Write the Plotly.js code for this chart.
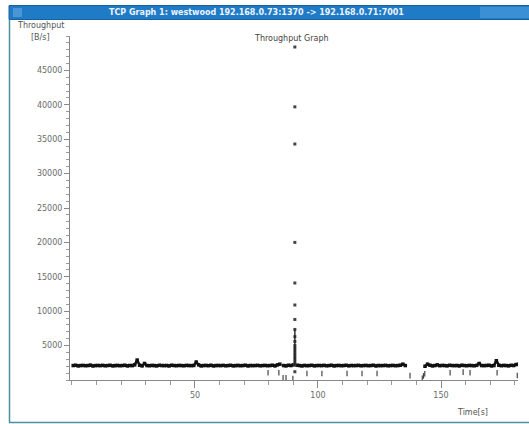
<!DOCTYPE html>
<html><head><meta charset="utf-8">
<script src="https://cdn.plot.ly/plotly-3.0.1.min.js"></script>
<style>html,body{margin:0;padding:0;background:#fff}#g{width:529px;height:424px}</style>
</head><body><div id="g"></div>
<script>
// Segment A: t = 0.5 .. 84.5 step 1
const segA = [2100,2150,2050,2100,2120,2080,2100,2160,2040,2100,
2110,2090,2130,2070,2100,2140,2060,2100,2120,2080,
2100,2150,2050,2110,2090,2200,2900,2150,2050,2400,
2100,2080,2120,2100,2060,2140,2100,2090,2110,2050,
2150,2100,2080,2120,2100,2070,2130,2100,2090,2110,
2600,2200,2050,2100,2120,2080,2150,2050,2100,2110,
2090,2130,2070,2100,2140,2060,2100,2120,2080,2100,
2150,2050,2110,2090,2100,2130,2070,2100,2120,2080,
2100,2150,2050,2200,2300];
// Segment B: t = 86 .. 90
const segB = [2100,2050,2150,2100,2200];
// Spike at t = 90.6
const spikeT = 90.6;
const spikeVals = [48400,39700,34300,20000,14100,10900,8800,7350,6300,5600,5000,4600,4200,3800,3400,3000,2600,2300,1200];
// Segment C: t = 91.5 .. 135.5
const segC = [2150,2100,2050,2120,2080,2100,2140,2060,2100,2110,
2090,2130,2070,2100,2150,2050,2100,2120,2080,2100,
2140,2060,2110,2090,2100,2130,2070,2100,2120,2080,
2100,2150,2050,2110,2090,2100,2130,2070,2100,2120,
2080,2100,2150,2300,2100];
// Segment D: t = 143.5 .. 181.5
const segD = [2000,2300,2150,2050,2100,2200,2080,2120,2100,2060,
2140,2100,2090,2110,2050,2150,2100,2080,2120,2100,
2070,2130,2400,2100,2090,2110,2150,2050,2100,2800,
2150,2080,2120,2100,2060,2140,2100,2250,2300];
// Low outlier points
const lowT = [79.7,84.1,85.8,87.0,89.8,95.5,101.6,111.8,117.9,124.0,137.4,142.4,142.9,143.4,153.7,159.0,161.8,172.8,181.0];
const lowV = [1050,1050,330,330,200,950,950,950,950,950,630,250,600,900,1050,1150,1050,1050,650];
// Tick labels
const xTickVals = [50,100,150];
const xTickText = ['50','100','150'];
const yTickVals = [5000,10000,15000,20000,25000,30000,35000,40000,45000];
const yTickText = ['5000','10000','15000','20000','25000','30000','35000','40000','45000'];

const lineStyle = {mode:'lines+markers', line:{color:'#111', width:2.6}, marker:{color:'#111', size:3.5, symbol:'square'}, hoverinfo:'skip', showlegend:false};
const traces = [
  Object.assign({type:'scatter', x0:0.5, dx:1, y:segA}, lineStyle),
  Object.assign({type:'scatter', x0:86, dx:1, y:segB}, lineStyle),
  Object.assign({type:'scatter', x0:91.5, dx:1, y:segC}, lineStyle),
  Object.assign({type:'scatter', x0:143.5, dx:1, y:segD}, lineStyle),
  {type:'scatter', mode:'markers', x:spikeVals.map(()=>spikeT), y:spikeVals, marker:{color:'#444', size:3, symbol:'square'}, showlegend:false},
  {type:'scatter', mode:'lines', x:[spikeT,spikeT], y:[2100,7350], line:{color:'#222', width:1.4}, showlegend:false},
  {type:'scatter', mode:'markers', x:lowT, y:lowV, marker:{color:'#444', size:4, symbol:'line-ns', line:{color:'#444', width:1.2}}, showlegend:false}
];

const f = {family:'DejaVu Sans, sans-serif', size:8, color:'#6a6a6a'};
function px(x){return (x-70)/448;}
function py(y){return (380-y)/344;}
const layout = {
  width:529, height:424,
  margin:{l:70, r:11, t:36, b:44},
  paper_bgcolor:'#ffffff', plot_bgcolor:'#ffffff',
  showlegend:false,
  xaxis:{range:[-0.8,181.3], showline:true, linecolor:'#888', linewidth:1, zeroline:false, showgrid:false,
         tickmode:'array', tickvals:xTickVals, ticktext:xTickText, ticks:'outside', ticklen:7, tickcolor:'#888',
         minor:{tickmode:'linear', tick0:0, dtick:10, ticks:'outside', ticklen:4, tickcolor:'#999'},
         tickfont:f},
  yaxis:{range:[0,50000], showline:true, linecolor:'#888', linewidth:1, zeroline:false, showgrid:false,
         tickmode:'array', tickvals:yTickVals, ticktext:yTickText,
         ticks:'outside', ticklen:5, tickcolor:'#888',
         minor:{tickmode:'linear', tick0:0, dtick:1000, ticks:'outside', ticklen:3, tickcolor:'#999'},
         tickfont:f},
  annotations:[
    {text:'Throughput Graph', xref:'paper', yref:'paper', x:px(291), y:py(38), xanchor:'center', yanchor:'middle', showarrow:false, font:{family:'DejaVu Sans, sans-serif', size:8, color:'#444'}},
    {text:'Throughput', xref:'paper', yref:'paper', x:px(40), y:py(26), xanchor:'center', yanchor:'middle', showarrow:false, font:{family:'DejaVu Sans, sans-serif', size:8, color:'#555'}},
    {text:'[B/s]', xref:'paper', yref:'paper', x:px(40), y:py(37), xanchor:'center', yanchor:'middle', showarrow:false, font:{family:'DejaVu Sans, sans-serif', size:8, color:'#555'}},
    {text:'Time[s]', xref:'paper', yref:'paper', x:px(472), y:py(412), xanchor:'center', yanchor:'middle', showarrow:false, font:{family:'DejaVu Sans, sans-serif', size:8, color:'#555'}},
    {text:'<b>TCP Graph 1: westwood 192.168.0.73:1370 -> 192.168.0.71:7001</b>', xref:'paper', yref:'paper', x:px(256), y:py(12.5), xanchor:'center', yanchor:'middle', showarrow:false, font:{family:'DejaVu Sans, sans-serif', size:8, color:'#eef4ff'}}
  ],
  shapes:[
    {type:'rect', xref:'paper', yref:'paper', x0:px(9), x1:px(530), y0:py(19.5), y1:py(5.5), fillcolor:'#1f7bc6', line:{color:'#16609e', width:1}, layer:'below'},
    {type:'rect', xref:'paper', yref:'paper', x0:px(480), x1:px(530), y0:py(18), y1:py(7), fillcolor:'#3b8fd3', line:{width:0}, layer:'below'},
    {type:'rect', xref:'paper', yref:'paper', x0:px(13), x1:px(22), y0:py(17), y1:py(8), fillcolor:'#4a95d4', line:{width:0}, layer:'below'},
    {type:'line', xref:'paper', yref:'paper', x0:px(9.5), x1:px(9.5), y0:py(19.5), y1:py(422.5), line:{color:'#4a8f9c', width:1.5}, layer:'below'},
    {type:'line', xref:'paper', yref:'paper', x0:px(9), x1:px(530), y0:py(422.5), y1:py(422.5), line:{color:'#4a8f9c', width:1.5}, layer:'below'}
  ]
};
Plotly.newPlot('g', traces, layout, {staticPlot:true, displayModeBar:false});
</script>
</body></html>
